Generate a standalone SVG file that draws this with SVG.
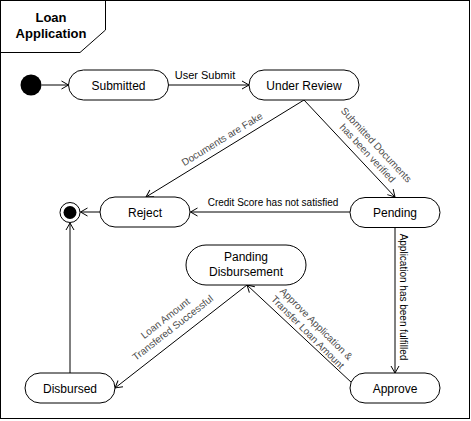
<svg xmlns="http://www.w3.org/2000/svg" width="471" height="421" viewBox="0 0 471 421">
<style>
.node rect{fill:#fff;stroke:#000;stroke-width:1}
.nt{font-family:"Liberation Sans",Arial,sans-serif;font-size:12px;fill:#000;text-anchor:middle}
.lbl{font-family:"Liberation Sans",Arial,sans-serif;font-size:10px;fill:#000;text-anchor:middle}
.rl{fill:#4d4d4d}
.conn path{fill:none;stroke:#000;stroke-width:1;marker-end:url(#arr)}
</style>
<defs>
<marker id="arr" viewBox="0 0 10 10" refX="9" refY="5" markerWidth="10" markerHeight="10" orient="auto" markerUnits="userSpaceOnUse">
<path d="M2,1 L9,5 L2,9" fill="none" stroke="#000" stroke-width="1"/>
</marker>
</defs>
<rect width="471" height="421" fill="#fff"/>
<g id="frame">
<rect x="0.5" y="0.5" width="469" height="418" fill="none" stroke="#000"/>
<path d="M0.5,0.5 H105.5 V30 L80,52.5 H0.5" fill="none" stroke="#000"/>
<text x="51" y="22" font-family="'Liberation Sans',Arial,sans-serif" font-size="13" font-weight="bold" text-anchor="middle">Loan</text>
<text x="51" y="38" font-family="'Liberation Sans',Arial,sans-serif" font-size="13" font-weight="bold" text-anchor="middle">Application</text>
</g>
<g class="conn" id="connectors">
<path d="M41.5,85 H68.5"/>
<path d="M168.5,85 H249"/>
<path d="M304,100 L146,197"/>
<path d="M304,100 L395,197"/>
<path d="M350,212 H190.5"/>
<path d="M100,212 H80.5"/>
<path d="M395,227.5 V373"/>
<path d="M352,383 L247,285"/>
<path d="M247,285 L115,388"/>
<path d="M70,373 V223"/>
<text class="lbl" x="205" y="79" style="font-size:11px">User Submit</text>
<text class="lbl rl" transform="translate(222,139) rotate(-31.4)" y="3.5">Documents are Fake</text>
<text class="lbl rl" transform="translate(372,149) rotate(47)"><tspan x="0" y="-2.5">Submitted Documents</tspan><tspan x="0" y="9.5">has been verified</tspan></text>
<text class="lbl" x="273" y="206">Credit Score has not satisfied</text>
<text class="lbl" transform="translate(403,297) rotate(90)" y="3.5">Application has been fulfilled</text>
<text class="lbl rl" transform="translate(312,328) rotate(45)"><tspan x="0" y="-2.5">Approve Application &amp;</tspan><tspan x="0" y="9.5">Transfer Loan Amount</tspan></text>
<text class="lbl rl" transform="translate(169,323) rotate(-38)"><tspan x="0" y="-2.5">Loan Amount</tspan><tspan x="0" y="9.5">Transfered Successful</tspan></text>
</g>
<g id="initial"><circle cx="31" cy="85" r="10.5" fill="#000"/></g>
<g id="final"><circle cx="70" cy="212.5" r="10" fill="#fff" stroke="#000"/><circle cx="70" cy="212.5" r="6.5" fill="#000"/></g>
<g class="node" id="submitted"><rect x="68.5" y="70" width="100" height="30" rx="15"/><text class="nt" x="118.5" y="89.5">Submitted</text></g>
<g class="node" id="under-review"><rect x="249" y="70" width="110" height="30" rx="15"/><text class="nt" x="304" y="89.5">Under Review</text></g>
<g class="node" id="reject"><rect x="100" y="197" width="90" height="30" rx="15"/><text class="nt" x="145" y="216.5">Reject</text></g>
<g class="node" id="pending"><rect x="350" y="197.5" width="90" height="30" rx="15"/><text class="nt" x="395" y="216.5">Pending</text></g>
<g class="node" id="panding-disbursement"><rect x="186" y="245" width="120" height="40" rx="20"/><text class="nt" x="246" y="261">Panding</text><text class="nt" x="246" y="275.5">Disbursement</text></g>
<g class="node" id="approve"><rect x="350" y="373" width="90" height="30" rx="15"/><text class="nt" x="395" y="392.5">Approve</text></g>
<g class="node" id="disbursed"><rect x="25" y="373" width="90" height="30" rx="15"/><text class="nt" x="70" y="392.5">Disbursed</text></g>
</svg>
